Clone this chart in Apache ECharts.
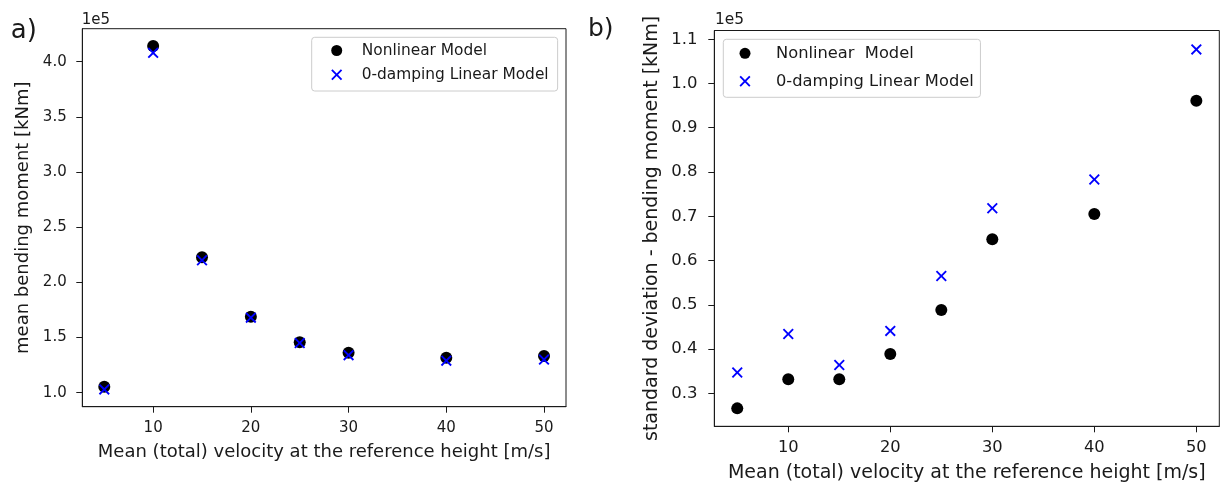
<!DOCTYPE html>
<html><head><meta charset="utf-8">
<script src="https://cdn.jsdelivr.net/npm/echarts@6/dist/echarts.min.js"></script>
<style>html,body{margin:0;padding:0;background:#fff}#c{width:1226px;height:488px}</style>
</head><body><div id="c"></div>
<script>
// ---- data (values in units of 1e5 kNm) ----
const velocities = [5, 10, 15, 20, 25, 30, 40, 50];
const meanNonlinear = [1.054, 4.143, 2.228, 1.689, 1.457, 1.363, 1.317, 1.333];
const meanLinear    = [1.03, 4.08, 2.20, 1.68, 1.45, 1.34, 1.29, 1.30];
const stdNonlinear  = [0.266, 0.332, 0.332, 0.389, 0.488, 0.648, 0.705, 0.961];
const stdLinear     = [0.347, 0.434, 0.364, 0.441, 0.565, 0.718, 0.783, 1.077];
const xTicks    = [10, 20, 30, 40, 50];
const meanTicks = [1.0, 1.5, 2.0, 2.5, 3.0, 3.5, 4.0];
const stdTicks  = [0.3, 0.4, 0.5, 0.6, 0.7, 0.8, 0.9, 1.0, 1.1];
const xLabel = 'Mean (total) velocity at the reference height [m/s]';
const meanYLabel = 'mean bending moment [kNm]';
const stdYLabel = 'standard deviation - bending moment [kNm]';
const nameNonlinA = 'Nonlinear Model';
const nameNonlinB = 'Nonlinear  Model';
const nameLinear = '0-damping Linear Model';

const FONT = 'DejaVu Sans';
const INK = '#1a1a1a';
const CROSS = 'path://M0,1.2L1.2,0L5,3.8L8.8,0L10,1.2L6.2,5L10,8.8L8.8,10L5,6.2L1.2,10L0,8.8L3.8,5Z';
const pairs = (ys) => velocities.map((v, i) => [v, ys[i]]);

function xAxis(gridIndex, fs, nameFs, nameGap) {
  return {
    type: 'value', gridIndex, min: 2.75, max: 52.25,
    name: xLabel, nameLocation: 'middle', nameGap,
    nameTextStyle: {fontFamily: FONT, fontSize: nameFs, color: INK},
    splitLine: {show: false},
    axisLine: {show: true, onZero: false, lineStyle: {color: INK, width: 1}},
    axisTick: {show: true, customValues: xTicks, length: 6, lineStyle: {color: INK, width: 1}},
    axisLabel: {customValues: xTicks, margin: 13.5, fontFamily: FONT, fontSize: fs, color: INK,
      formatter: v => String(v)}
  };
}
function yAxis(gridIndex, min, max, ticks, name, fs, nameFs, nameGap, margin) {
  return {
    type: 'value', gridIndex, min, max,
    name, nameLocation: 'middle', nameGap,
    nameTextStyle: {fontFamily: FONT, fontSize: nameFs, color: INK},
    splitLine: {show: false},
    axisLine: {show: true, onZero: false, lineStyle: {color: INK, width: 1}},
    axisTick: {show: true, customValues: ticks, length: 6, lineStyle: {color: INK, width: 1}},
    axisLabel: {customValues: ticks, margin, fontFamily: FONT, fontSize: fs, color: INK,
      formatter: v => v.toFixed(1)}
  };
}
function dots(name, ys, idx) {
  return {type: 'scatter', name, xAxisIndex: idx, yAxisIndex: idx, data: pairs(ys),
    symbol: 'circle', symbolSize: 12, itemStyle: {color: '#000', opacity: 1},
    emphasis: {disabled: true}, z: 2};
}
function crosses(name, ys, idx) {
  return {type: 'scatter', name, xAxisIndex: idx, yAxisIndex: idx, data: pairs(ys),
    symbol: CROSS, symbolSize: 11, symbolKeepAspect: true, itemStyle: {color: '#0000ff', opacity: 1},
    emphasis: {disabled: true}, z: 3};
}
function legend(left, top, padding, itemGap, fs, textPad, names) {
  return {
    left, top, orient: 'vertical', padding, itemGap, itemWidth: 11, itemHeight: 11,
    backgroundColor: 'rgba(255,255,255,0.85)', borderColor: '#cccccc', borderWidth: 1, borderRadius: 3,
    selectedMode: false,
    textStyle: {fontFamily: FONT, fontSize: fs, color: INK, lineHeight: 14, padding: [0, 0, 0, textPad]},
    data: [
      {name: names[0], icon: 'circle', itemStyle: {color: '#000'}},
      {name: names[1], icon: CROSS, itemStyle: {color: '#0000ff'}}
    ]
  };
}

const chart = echarts.init(document.getElementById('c'), null, {renderer: 'canvas'});
chart.setOption({
  animation: false,
  backgroundColor: '#fff',
  textStyle: {fontFamily: FONT},
  grid: [
    {left: 82.3, top: 28.7, width: 483.7, height: 378, show: true, borderColor: INK, borderWidth: 1, backgroundColor: 'transparent'},
    {left: 714.3, top: 30.5, width: 505, height: 395.8, show: true, borderColor: INK, borderWidth: 1, backgroundColor: 'transparent'}
  ],
  xAxis: [xAxis(0, 15, 18, 36.3), xAxis(1, 16.3, 19, 37.6)],
  yAxis: [
    yAxis(0, 0.873, 4.299, meanTicks, meanYLabel, 15, 18, 49.5, 15.6),
    yAxis(1, 0.2255, 1.1197, stdTicks, stdYLabel, 16.5, 19, 53, 16.7)
  ],
  legend: [
    legend(311.7, 37.3, [5.7, 9, 8.7, 19.5], 9.3, 15.4, 14.5, [nameNonlinA, nameLinear]),
    legend(723.3, 39.3, [6, 6.7, 8, 16.2], 12, 16.3, 20.5, [nameNonlinB, nameLinear])
  ],
  series: [
    dots(nameNonlinA, meanNonlinear, 0),
    crosses(nameLinear, meanLinear, 0),
    dots(nameNonlinB, stdNonlinear, 1),
    crosses(nameLinear, stdLinear, 1)
  ],
  graphic: [
    {type: 'text', x: 10.7, y: 31, style: {text: 'a)', font: '26px "DejaVu Sans"', fill: INK, align: 'left', verticalAlign: 'middle'}},
    {type: 'text', x: 588, y: 29.5, style: {text: 'b)', font: '25px "DejaVu Sans"', fill: INK, align: 'left', verticalAlign: 'middle'}},
    {type: 'text', x: 81.7, y: 20, style: {text: '1e5', font: '15px "DejaVu Sans"', fill: INK, align: 'left', verticalAlign: 'middle'}},
    {type: 'text', x: 715, y: 20, style: {text: '1e5', font: '15.4px "DejaVu Sans"', fill: INK, align: 'left', verticalAlign: 'middle'}}
  ]
});
</script>
</body></html>
